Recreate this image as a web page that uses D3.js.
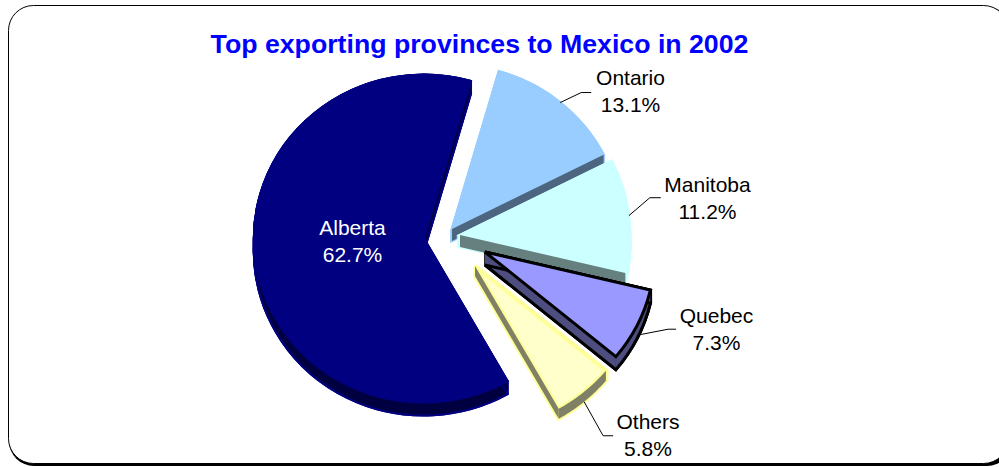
<!DOCTYPE html>
<meta charset="utf-8">
<html>
    <head>
        <script src="https://d3js.org/d3.v7.min.js"></script>
    </head>
    <style>
        html, body { margin: 0; padding: 0; background: #fff; overflow: hidden; }
        svg { display: block; }
        text { font-family: "Liberation Sans", Arial, sans-serif; }
    </style>
    <body>
        <div id="pie_viz"></div>
        <script>
            var title = "Top exporting provinces to Mexico in 2002";
            var provinces = ["Alberta", "Ontario", "Manitoba", "Quebec", "Others"];
            var shares = [62.7, 13.1, 11.2, 7.3, 5.8];
            var fills = ["#000080", "#99CCFF", "#CCFFFF", "#9999FF", "#FFFFCC"];
            var borders = ["#000080", "#99CCFF", "#CCFFFF", "#000000", "#FFFF99"];
            var borderWidths = [2, 2.5, 2.5, 3, 4];

            var width = 999, height = 467;
            var rx = 170, ry = 164;

            // where each slice's tip ends up once pulled out of the pie
            var tips = [[424, 238.5], [452, 229], [460, 235], [485, 252], [475, 266]];
            var depths = [13, 12, 12, 13, 10];
            // the curved outer wall only shows on these (others are lit, same as fill)
            var outerWall = [true, false, false, true, true];
            // border is painted back over the wall on these
            var strokeOver = [true, false, false, true, false];
            // leader line bend, relative to the slice edge, and label centre
            var bends = [null, [21, -10], [21, -18], [31, -6], [19, 34]];
            var leadEnd = [null, 10, 11, 8, 10];
            var leadDrop = [0, 0, 0, 10, 10];
            var labelPos = [[352.5, 235], [630.5, 85], [707.5, 192], [716.5, 323], [648, 429]];

            var svg = d3.select("#pie_viz").append("svg")
                .attr("width", width)
                .attr("height", height);

            // frame runs off the right of the picture, shadow along the bottom
            svg.append("rect")
                .attr("x", 9).attr("y", 7)
                .attr("width", 1003).attr("height", 459)
                .attr("rx", 25).attr("ry", 25)
                .attr("fill", "#000");
            svg.append("rect")
                .attr("x", 8.5).attr("y", 5.5)
                .attr("width", 1000).attr("height", 458)
                .attr("rx", 25).attr("ry", 25)
                .attr("fill", "#fff")
                .attr("stroke", "#000")
                .attr("stroke-width", 1);

            svg.append("text")
                .attr("x", 479.5).attr("y", 53)
                .attr("text-anchor", "middle")
                .attr("font-size", 26.7)
                .attr("font-weight", "bold")
                .attr("fill", "#0000FF")
                .text(title);

            var arcs = d3.pie().sort(null)
                .startAngle(150.5 * Math.PI / 180)
                .endAngle(510.5 * Math.PI / 180)(shares);
            var arc = d3.arc().innerRadius(0).outerRadius(1);

            function shade(c) {
                var k = d3.rgb(c);
                return d3.rgb(k.r * 0.5, k.g * 0.5, k.b * 0.5).formatHex();
            }

            arcs.forEach(function (d, i) {
                var g = svg.append("g");
                var tx = tips[i][0], ty = tips[i][1], h = depths[i];
                var place = function (dy) {
                    return "translate(" + tx + "," + (ty + dy) + ") scale(" + rx + "," + ry + ")";
                };
                var rim = function (a) {
                    return [tx + rx * Math.sin(a), ty - ry * Math.cos(a)];
                };
                var slab = function (dy, fill) {
                    g.append("path")
                        .attr("d", arc(d))
                        .attr("transform", place(dy))
                        .attr("fill", fill)
                        .attr("stroke", borders[i])
                        .attr("stroke-width", borderWidths[i])
                        .attr("vector-effect", "non-scaling-stroke");
                };

                // outline of the whole slab, same slice stacked downward
                d3.range(h, -1, -1).forEach(function (dy) { slab(dy, borders[i]); });

                // top face
                slab(0, fills[i]);

                // flat wall under the closing edge
                var corner = rim(d.endAngle);
                g.append("path")
                    .attr("d", d3.line()([[tx, ty], corner, [corner[0], corner[1] + h], [tx, ty + h]]) + "Z")
                    .attr("fill", shade(fills[i]));

                // curved wall, only the part on the lower half of the ellipse
                if (outerWall[i]) {
                    var wrap = d.startAngle >= 2 * Math.PI ? 2 * Math.PI : 0;
                    var a0 = Math.max(d.startAngle - wrap, Math.PI / 2);
                    var a1 = Math.min(d.endAngle - wrap, Math.PI * 3 / 2);
                    var steps = d3.range(0, 61).map(function (k) { return a0 + (a1 - a0) * k / 60; });
                    var upper = steps.map(rim);
                    var lower = steps.map(rim).reverse().map(function (p) { return [p[0], p[1] + h]; });
                    g.append("path")
                        .attr("d", d3.line()(upper.concat(lower)) + "Z")
                        .attr("fill", shade(fills[i]));
                }

                if (strokeOver[i]) {
                    slab(h, "none");
                    slab(0, fills[i]);
                }
            });

            // leader lines from the middle of each outer edge
            arcs.forEach(function (d, i) {
                if (!bends[i]) return;
                var a = (d.startAngle + d.endAngle) / 2;
                var x0 = tips[i][0] + rx * Math.sin(a);
                var y0 = tips[i][1] - ry * Math.cos(a) + leadDrop[i];
                var x1 = x0 + bends[i][0], y1 = y0 + bends[i][1];
                svg.append("path")
                    .attr("d", d3.line()([[x0, y0], [x1, y1], [x1 + leadEnd[i], y1]]))
                    .attr("fill", "none")
                    .attr("stroke", "#000")
                    .attr("stroke-width", 1);
            });

            provinces.forEach(function (p, i) {
                var t = svg.append("text")
                    .attr("text-anchor", "middle")
                    .attr("font-size", 21)
                    .attr("fill", i === 0 ? "#fff" : "#000");
                t.append("tspan")
                    .attr("x", labelPos[i][0]).attr("y", labelPos[i][1])
                    .text(p);
                t.append("tspan")
                    .attr("x", labelPos[i][0]).attr("y", labelPos[i][1] + 27)
                    .text(shares[i].toFixed(1) + "%");
            });
        </script>
    </body>
</html>
